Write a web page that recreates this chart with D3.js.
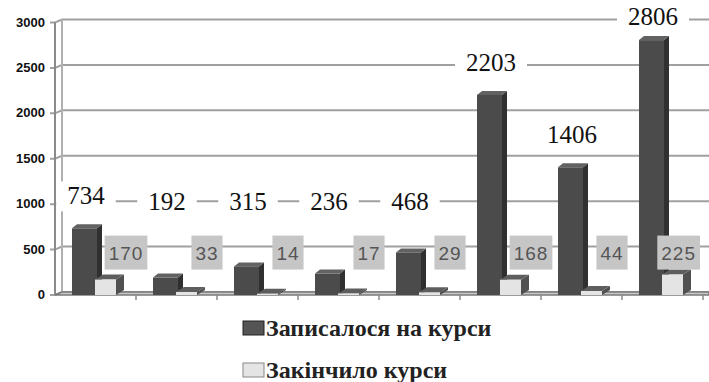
<!DOCTYPE html>
<html>
<head>
<meta charset="utf-8">
<script src="https://cdn.jsdelivr.net/npm/d3@7"></script>
</head>
<body style="margin:0">
<svg id="chart" width="709" height="382"></svg>
<script>
// дані діаграми
const categories = ["1", "2", "3", "4", "5", "6", "7", "8"];
const enrolled = [734, 192, 315, 236, 468, 2203, 1406, 2806];
const finished = [170, 33, 14, 17, 29, 168, 44, 225];
const yTicks = [0, 500, 1000, 1500, 2000, 2500, 3000];
const seriesNames = ["Записалося на курси", "Закінчило курси"];

const SERIF = "serif";
const SANS = "Liberation Sans, Arial, sans-serif";

const svg = d3.select("#chart");
const depthX = 7, depthY = 3; // зсув задньої стінки

// шкали
const x = d3.scaleBand().domain(categories).range([55, 703]).padding(0);
const yFront = d3.scaleLinear().domain([0, 3000]).range([295, 22.5]);
const yBack = v => yFront(v) - depthY;

// задня стінка: сітка
svg.selectAll(".grid")
  .data(yTicks)
  .enter().append("path")
  .attr("class", "grid")
  .attr("d", d => `M50,${yFront(d)}L55,${yFront(d)}L${55 + depthX},${yBack(d)}L709,${yBack(d)}`)
  .attr("fill", "none")
  .attr("stroke", "#a0a0a0")
  .attr("stroke-width", 2);

// бічна стінка (вісь)
svg.append("line")
  .attr("x1", 55).attr("x2", 55)
  .attr("y1", yFront(3000)).attr("y2", yFront(0))
  .attr("stroke", "#8a8a8a").attr("stroke-width", 2);
svg.append("line")
  .attr("x1", 55 + depthX).attr("x2", 55 + depthX)
  .attr("y1", yBack(3000)).attr("y2", yBack(0))
  .attr("stroke", "#b0b0b0").attr("stroke-width", 2);

// підлога
svg.append("path")
  .attr("d", `M55,${yFront(0)}L${55 + depthX},${yBack(0)}L709,${yBack(0)}L709,${yFront(0)}Z`)
  .attr("fill", "#c8c8c8")
  .attr("stroke", "#7a7a7a")
  .attr("stroke-width", 1.5);

// мітки категорій
svg.selectAll(".ctick")
  .data(categories)
  .enter().append("line")
  .attr("x1", d => x(d) + x.bandwidth())
  .attr("x2", d => x(d) + x.bandwidth())
  .attr("y1", yFront(0)).attr("y2", yFront(0) + 5)
  .attr("stroke", "#888").attr("stroke-width", 1.5);

// підписи осі Y
svg.selectAll(".ylab")
  .data(yTicks)
  .enter().append("text")
  .attr("x", 45)
  .attr("y", d => yFront(d) + 4)
  .attr("text-anchor", "end")
  .attr("font-family", SANS)
  .attr("font-weight", "bold")
  .attr("font-size", 13)
  .attr("fill", "#111")
  .text(d => d);

// 3D стовпчик
function bar3d(g, x0, w, v, dx, dy, colors) {
  const top = yFront(v), bottom = yFront(0);
  g.append("path")
    .attr("d", `M${x0 + w},${bottom}L${x0 + w + dx},${bottom - dy}L${x0 + w + dx},${top - dy}L${x0 + w},${top}Z`)
    .attr("fill", colors.side);
  g.append("path")
    .attr("d", `M${x0},${top}L${x0 + dx},${top - dy}L${x0 + w + dx},${top - dy}L${x0 + w},${top}Z`)
    .attr("fill", colors.top);
  g.append("rect")
    .attr("x", x0).attr("y", top)
    .attr("width", w).attr("height", bottom - top)
    .attr("fill", colors.front);
}

const darkColors = { front: "#4b4b4b", side: "#303030", top: "#626262" };
const lightColors = { front: "#e4e4e4", side: "#505050", top: "#5e5e5e" };

const bars = svg.append("g");
categories.forEach((c, i) => {
  const g = bars.append("g");
  bar3d(g, x(c) + 17, 25, enrolled[i], 5, 4, darkColors);
  bar3d(g, x(c) + 40, 21, finished[i], 8, 5, lightColors);
});

// підписи "Записалося"
const darkSize = 25;
categories.forEach((c, i) => {
  const cx = x(c) + 31;
  const cy = Math.max(17, Math.min(yFront(enrolled[i]) - 32, 202));
  const w = String(enrolled[i]).length * darkSize * 0.5 + 22;
  svg.append("rect")
    .attr("x", cx - w / 2).attr("y", cy - 15)
    .attr("width", w).attr("height", 30)
    .attr("fill", "#fff");
});
svg.selectAll(".dlab")
  .data(enrolled)
  .enter().append("text")
  .attr("class", "dlab")
  .attr("x", (d, i) => x(categories[i]) + 31)
  .attr("y", d => Math.max(17, Math.min(yFront(d) - 32, 202)) + 8)
  .attr("text-anchor", "middle")
  .attr("font-family", SERIF)
  .attr("font-size", darkSize)
  .attr("fill", "#111")
  .text(d => d);

// підписи "Закінчило"
const lightSize = 19;
categories.forEach((c, i) => {
  const cy = yBack(500) + 6;
  const w = String(finished[i]).length * (lightSize * 0.556 + 1) + 8;
  const cx = Math.min(x(c) + 71, 700 - w / 2);
  svg.append("rect")
    .attr("x", cx - w / 2).attr("y", cy - 17)
    .attr("width", w).attr("height", 34)
    .attr("fill", "#c6c6c6");
  svg.append("text")
    .attr("x", cx).attr("y", cy + 7)
    .attr("text-anchor", "middle")
    .attr("font-family", SANS)
    .attr("font-size", lightSize)
    .attr("letter-spacing", 1)
    .attr("fill", "#555")
    .text(finished[i]);
});

// легенда
const legendFills = [["#555", "#222"], ["#e4e4e4", "#888"]];
seriesNames.forEach((name, i) => {
  const ly = 321 + i * 42;
  svg.append("rect")
    .attr("x", 243).attr("y", ly)
    .attr("width", 21).attr("height", 14)
    .attr("fill", legendFills[i][0])
    .attr("stroke", legendFills[i][1])
    .attr("stroke-width", 1);
});
svg.selectAll(".leg")
  .data(seriesNames)
  .enter().append("text")
  .attr("class", "leg")
  .attr("x", 266)
  .attr("y", (d, i) => 321 + i * 42 + 15)
  .attr("font-family", SERIF)
  .attr("font-weight", "bold")
  .attr("font-size", 24)
  .attr("fill", "#222")
  .text(d => d);
</script>
</body>
</html>
